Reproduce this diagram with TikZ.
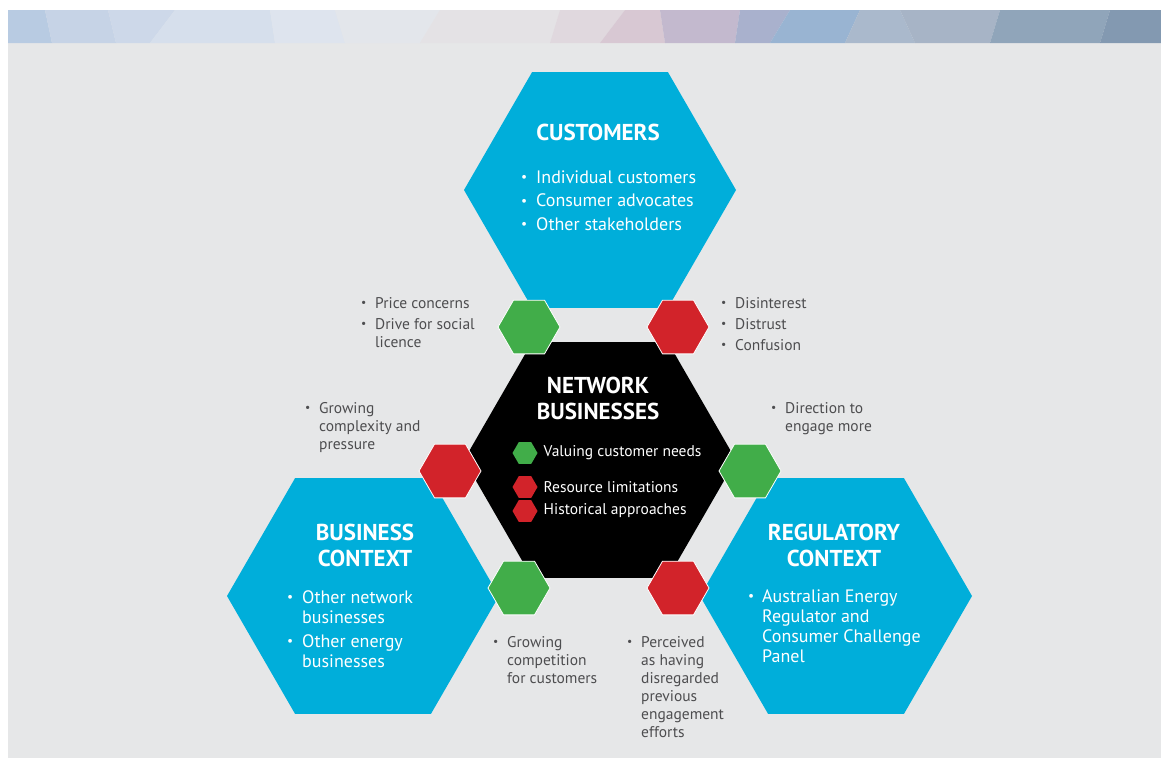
\documentclass[tikz,border=0pt]{standalone}
\usepackage{fontspec}
\setmainfont{PT Sans}
\usepackage{graphicx}
\usetikzlibrary{shapes.geometric, positioning}

\definecolor{hexblue}{HTML}{00AEDA}
\definecolor{hexgreen}{HTML}{41AD49}
\definecolor{hexred}{HTML}{D2232A}
\definecolor{panelgray}{HTML}{E6E7E8}
\definecolor{notegray}{HTML}{4D4D4F}

\newcommand{\hexbul}[1][14pt]{\makebox[#1][l]{\raisebox{0.15ex}{\scalebox{0.75}{\textbullet}}}}
\newcommand{\hexind}[1][14pt]{\makebox[#1][l]{}}

\begin{document}
\begin{tikzpicture}[
    x=1pt, y=-1pt,
    bighex/.style={regular polygon, regular polygon sides=6, minimum size=272pt, inner sep=0pt, outer sep=0pt, fill=hexblue},
    smallhex/.style={regular polygon, regular polygon sides=6, minimum size=62pt, inner sep=0pt, outer sep=0pt, draw=white, line width=0.8pt},
    leghex/.style={regular polygon, regular polygon sides=6, minimum size=25pt, inner sep=0pt, outer sep=0pt},
    head/.style={align=center, inner sep=0pt, text=white, font=\fontsize{23}{26}\selectfont\bfseries},
    hexlist/.style={align=left, inner sep=0pt, text=white, font=\fontsize{18}{20}\selectfont},
    note/.style={align=left, inner sep=0pt, text=notegray, font=\fontsize{15.5}{18}\selectfont},
    legtext/.style={inner sep=0pt, text=white, font=\fontsize{15.5}{18}\selectfont}
]

% Background panel and top strip
\fill[white] (0,0) rectangle (1161,758);
\fill[panelgray] (8,10) rectangle (1161,758);
\foreach \ta/\ba/\tb/\bb/\col in {
    8/8/45/52/B8CBE2, 45/52/108/116/C6D3E6, 108/116/175/150/CDD8E9,
    175/150/270/275/D6DFEC, 270/275/335/345/DEE4EE, 335/345/440/420/E3E6EB,
    440/420/560/550/E4E2E5, 560/550/625/600/E0D8DE, 625/600/660/665/D8C8D3,
    660/665/740/735/C3B9CE, 740/735/790/770/A9B1CD, 790/770/860/845/99B4D2,
    860/845/900/915/AAB9CC, 900/915/1000/990/A7B4C6, 1000/990/1110/1100/90A5BA,
    1110/1100/1161/1161/8399B1}
  {\definecolor{stripc}{HTML}{\col}
   \fill[stripc] (\ta,10) -- (\tb,10) -- (\bb,43) -- (\ba,43) -- cycle;}

% Large hexagons
\node[bighex] (cust) at (600,190) {};
\node[bighex, fill=black] (net) at (600,460) {};
\node[bighex] (bus) at (363,596) {};
\node[bighex] (reg) at (836,596) {};

% Small hexagons between them
\node[smallhex, fill=hexgreen] (gA) at (529,327) {};
\node[smallhex, fill=hexred] (rA) at (678,327) {};
\node[smallhex, fill=hexred] (rB) at (450,471) {};
\node[smallhex, fill=hexgreen] (gB) at (750,471) {};
\node[smallhex, fill=hexgreen] (gC) at (519,588) {};
\node[smallhex, fill=hexred] (rC) at (678,588) {};

% Headings (base = last line)
\node[head, anchor=base] (custhead) at (598,140) {CUSTOMERS};
\node[head, anchor=base] (nethead) at (598,419) {NETWORK\\BUSINESSES};
\node[head, anchor=base] (bushead) at (365,566) {BUSINESS\\CONTEXT};
\node[head, anchor=base] (reghead) at (834,566) {REGULATORY\\CONTEXT};

% Lists inside the hexagons
\node[hexlist, anchor=base west] (custlist) at (521,230)
  {\hexbul[15pt]Individual customers\\[3.5pt]\hexbul[15pt]Consumer advocates\\[3.5pt]\hexbul[15pt]Other stakeholders};
\node[hexlist, anchor=base west] (buslist) at (287,667)
  {\hexbul[15pt]Other network\\\hexind[15pt]businesses\\[4pt]\hexbul[15pt]Other energy\\\hexind[15pt]businesses};
\node[hexlist, anchor=base west] (reglist) at (748,662)
  {\hexbul Australian Energy\\\hexind Regulator and\\\hexind Consumer Challenge\\\hexind Panel};

% Legend in the centre
\node[leghex, fill=hexgreen] (legA) at (525,453) {};
\node[leghex, fill=hexred] (legB) at (525,487) {};
\node[leghex, fill=hexred] (legC) at (525,511) {};
\node[legtext, right=6pt of legA] (legAtext) {Valuing customer needs};
\node[legtext, right=6pt of legB] (legBtext) {Resource limitations};
\node[legtext, right=6pt of legC] (legCtext) {Historical approaches};

% Notes beside the small hexagons
\node[note, anchor=base west] (priceA) at (361,347)
  {\hexbul Price concerns\\[3pt]\hexbul Drive for social\\\hexind licence};
\node[note, anchor=base west] (distA) at (721,350)
  {\hexbul Disinterest\\[3pt]\hexbul Distrust\\[3pt]\hexbul Confusion};
\node[note, anchor=base west] (growB) at (305,449)
  {\hexbul Growing\\\hexind complexity and\\\hexind pressure};
\node[note, anchor=base west] (dirB) at (771,431)
  {\hexbul Direction to\\\hexind engage more};
\node[note, anchor=base west] (compC) at (493,683)
  {\hexbul Growing\\\hexind competition\\\hexind for customers};
\node[note, anchor=base west] (percC) at (627,737)
  {\hexbul Perceived\\\hexind as having\\\hexind disregarded\\\hexind previous\\\hexind engagement\\\hexind efforts};

\end{tikzpicture}
\end{document}
